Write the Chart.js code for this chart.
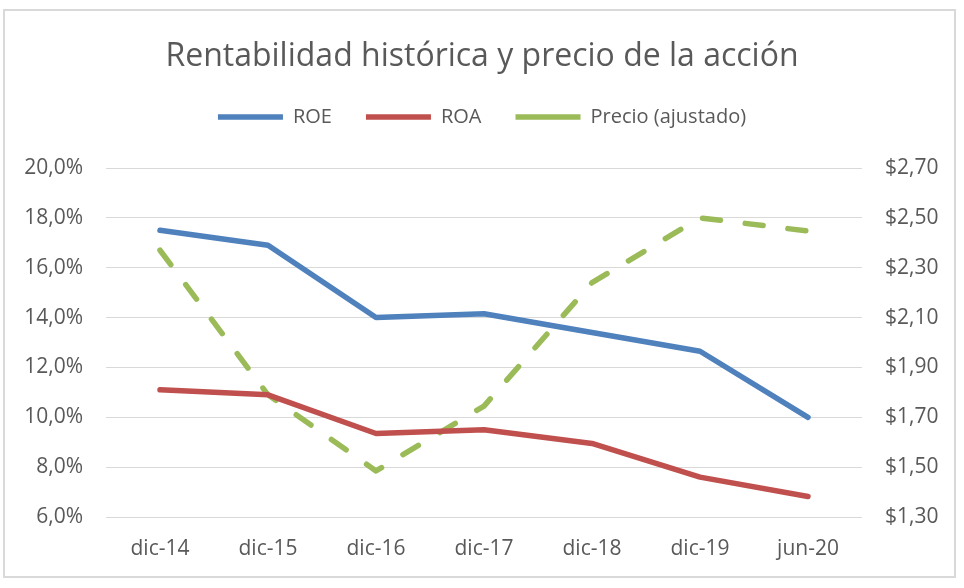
<!DOCTYPE html>
<html>
<head>
<meta charset="utf-8">
<script src="https://cdn.jsdelivr.net/npm/chart.js@4"></script>
<style>
	body { margin: 0; background: #fff; }
	#wrap { position: relative; width: 964px; height: 588px; }
	#frame {
		position: absolute; left: 3px; top: 9px; width: 953px; height: 569px;
		border: 2px solid #d9d9d9; box-sizing: border-box; pointer-events: none;
	}
</style>
</head>
<body>
<div id="wrap">
	<canvas id="chart" width="964" height="588"></canvas>
	<div id="frame"></div>
</div>
<script>
const labels = ["dic-14", "dic-15", "dic-16", "dic-17", "dic-18", "dic-19", "jun-20"];
const roe = [17.5, 16.9, 14.0, 14.15, 13.4, 12.65, 10.0];
const roa = [11.1, 10.9, 9.35, 9.5, 8.95, 7.6, 6.82];
const precio = [2.37, 1.79, 1.485, 1.745, 2.24, 2.5, 2.447];

const font_family = "'Open Sans', sans-serif";
const text_color = "#595959";

Chart.defaults.font.family = font_family;
Chart.defaults.color = text_color;

// extra room between the legend row and the plot area
const legend_gap = {
	id: "legend_gap",
	beforeLayout(chart) {
		const legend = chart.legend;
		if (legend && !legend._gap) {
			const fit = legend.fit.bind(legend);
			legend.fit = function () {
				fit();
				this.height += 31;
			};
			legend._gap = true;
		}
	},
};

const line_style = (color) => ({
	borderColor: color,
	backgroundColor: color,
	borderWidth: 5.5,
	borderCapStyle: "round",
	borderJoinStyle: "round",
	pointRadius: 0,
	tension: 0,
});

new Chart(document.getElementById("chart"), {
	type: "line",
	data: {
		labels: labels,
		datasets: [
			{ label: "ROE", data: roe, yAxisID: "y", ...line_style("#4f81bd") },
			{ label: "ROA", data: roa, yAxisID: "y", ...line_style("#c0504d") },
			{
				label: "Precio (ajustado)",
				data: precio,
				yAxisID: "y2",
				...line_style("#9bbb59"),
				borderDash: [18, 25],
			},
		],
	},
	plugins: [legend_gap],
	options: {
		responsive: false,
		animation: false,
		layout: { padding: 0 },
		plugins: {
			title: {
				display: true,
				text: "Rentabilidad histórica y precio de la acción",
				color: text_color,
				font: { size: 32, weight: "normal", family: font_family, lineHeight: 1 },
				padding: { top: 41, bottom: 0 },
			},
			legend: {
				position: "top",
				labels: {
					usePointStyle: true,
					pointStyle: "line",
					pointStyleWidth: 65,
					boxHeight: 20,
					padding: 34,
					color: text_color,
					font: { size: 20 },
				},
			},
			tooltip: { enabled: false },
		},
		scales: {
			x: {
				offset: true,
				grid: { display: false, drawTicks: false },
				border: { display: false },
				ticks: { padding: 19, font: { size: 21 }, color: text_color },
				afterFit(scale) { scale.height = 71; },
			},
			y: {
				position: "left",
				min: 6,
				max: 20,
				grid: { color: "#d9d9d9", lineWidth: 1, drawTicks: false },
				border: { display: false },
				ticks: {
					stepSize: 2,
					padding: 23,
					font: { size: 21 },
					color: text_color,
					callback: (v) => v.toFixed(1).replace(".", ",") + "%",
				},
				afterFit(scale) { scale.width = 106; },
			},
			y2: {
				position: "right",
				min: 1.3,
				max: 2.7,
				grid: { display: false, drawTicks: false },
				border: { display: false },
				ticks: {
					stepSize: 0.2,
					padding: 23,
					font: { size: 21 },
					color: text_color,
					callback: (v) => "$" + v.toFixed(2).replace(".", ","),
				},
				afterFit(scale) { scale.width = 102; },
			},
		},
	},
});
</script>
</body>
</html>
